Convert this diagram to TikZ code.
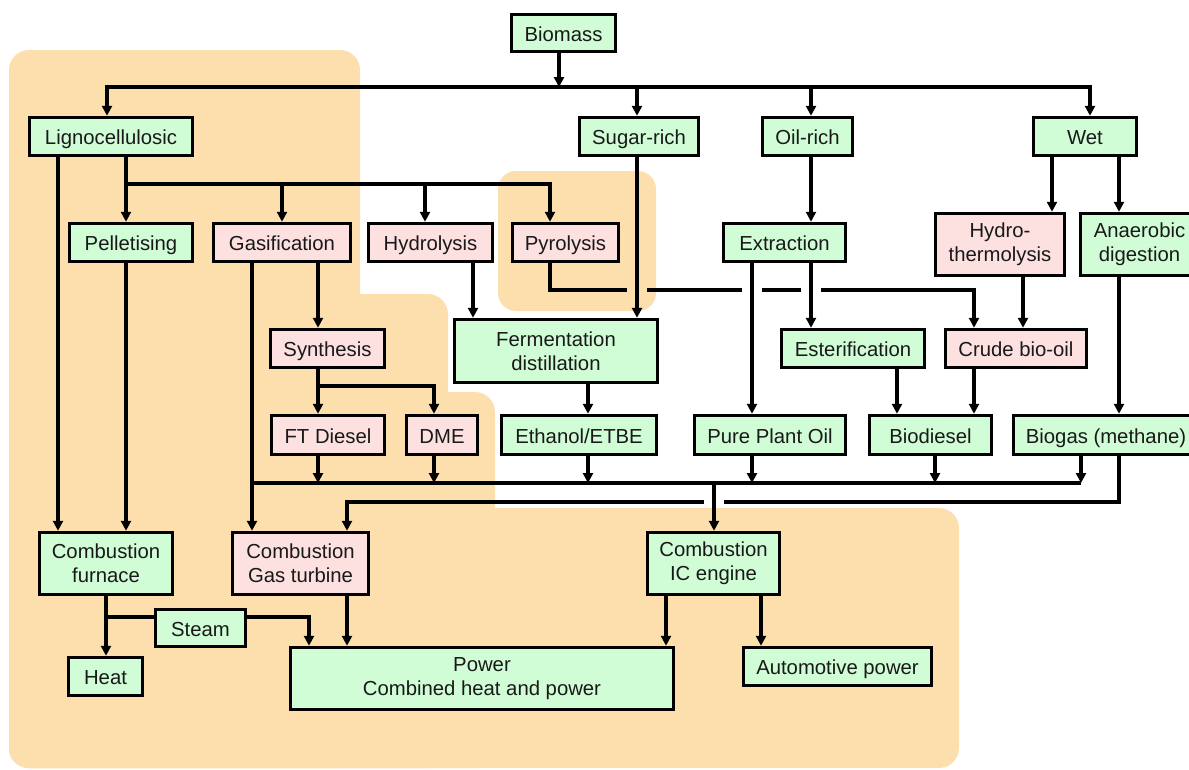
\documentclass[tikz,border=0pt]{standalone}
\usepackage{fontspec}
\setmainfont{Liberation Sans}
\usetikzlibrary{arrows.meta,calc}
\definecolor{boxg}{RGB}{208,252,214}
\definecolor{boxp}{RGB}{253,224,224}
\definecolor{bgo}{RGB}{253,223,173}
\definecolor{txt}{RGB}{25,25,25}
\tikzset{
  bx/.style={draw=black, line width=3.5pt, inner sep=0pt, align=center, text=txt},
  oneline/.style={text height=16pt, text depth=0pt},
  gbox/.style={bx, oneline, fill=boxg},
  pbox/.style={bx, oneline, fill=boxp},
  gboxtwo/.style={bx, fill=boxg},
  pboxtwo/.style={bx, fill=boxp},
  arr/.style={-{Triangle[length=10pt,width=10pt]}},
}
\begin{document}
\begin{tikzpicture}[x=1pt, y=-1pt, line width=3.2pt, font=\fontsize{20.3}{24}\selectfont]
\useasboundingbox (0,0) rectangle (1189,769);
% background regions
\fill[bgo, rounded corners=20pt] (9,50) rectangle (360,768);
\fill[bgo, rounded corners=20pt] (9,294) rectangle (448,768);
\fill[bgo, rounded corners=20pt] (9,392) rectangle (495,768);
\fill[bgo, rounded corners=20pt] (9,508) rectangle (959,768);
\fill[bgo, rounded corners=18pt] (498,171) rectangle (656,311);
% nodes
\node[gbox, minimum width=104pt, minimum height=37pt] (bio) at (563.5,33) {Biomass};
\node[gbox, minimum width=163pt, minimum height=38pt] (lig) at (111,136.5) {Lignocellulosic};
\node[gbox, minimum width=119pt, minimum height=38pt] (sug) at (639,136.5) {Sugar-rich};
\node[gbox, minimum width=90pt, minimum height=38pt] (oil) at (807.5,136.5) {Oil-rich};
\node[gbox, minimum width=103pt, minimum height=38pt] (wet) at (1085,136.5) {Wet};
\node[gbox, minimum width=123pt, minimum height=38pt] (pel) at (131,242.5) {Pelletising};
\node[pbox, minimum width=137pt, minimum height=38pt] (gas) at (282,242.5) {Gasification};
\node[pbox, minimum width=124pt, minimum height=38pt] (hyd) at (430.5,242.5) {Hydrolysis};
\node[pbox, minimum width=106pt, minimum height=38pt] (pyr) at (565.5,242.5) {Pyrolysis};
\node[gbox, minimum width=122pt, minimum height=38pt] (ext) at (784.5,242.5) {Extraction};
\node[pboxtwo, minimum width=129pt, minimum height=62pt] (hth) at (1000,244.5) {Hydro-\\thermolysis};
\node[gboxtwo, minimum width=118pt, minimum height=62pt] (ana) at (1139.5,244.5) {Anaerobic\\digestion};
\node[gboxtwo, minimum width=203pt, minimum height=63pt] (fer) at (556,351) {Fermentation\\distillation};
\node[pbox, minimum width=114pt, minimum height=38pt] (syn) at (327.5,348.5) {Synthesis};
\node[gbox, minimum width=143pt, minimum height=38pt] (est) at (853,348.5) {Esterification};
\node[pbox, minimum width=141pt, minimum height=38pt] (cru) at (1016,348.5) {Crude bio-oil};
\node[pbox, minimum width=113pt, minimum height=39pt] (ftd) at (328,435) {FT Diesel};
\node[pbox, minimum width=71pt, minimum height=39pt] (dme) at (442,435) {DME};
\node[gbox, minimum width=155pt, minimum height=39pt] (eth) at (579,435) {Ethanol/ETBE};
\node[gbox, minimum width=151pt, minimum height=39pt] (ppo) at (770,435) {Pure Plant Oil};
\node[gbox, minimum width=122pt, minimum height=39pt] (bdi) at (930.5,435) {Biodiesel};
\node[gbox, minimum width=185pt, minimum height=39pt] (bgs) at (1106,435) {Biogas (methane)};
\node[gboxtwo, minimum width=133pt, minimum height=62pt] (fur) at (106,563.5) {Combustion\\furnace};
\node[pboxtwo, minimum width=136pt, minimum height=62pt] (gtb) at (300.5,563.5) {Combustion\\Gas turbine};
\node[gboxtwo, minimum width=132pt, minimum height=62pt] (ice) at (713.5,563.5) {Combustion\\IC engine};
\node[gbox, minimum width=90pt, minimum height=37pt] (stm) at (200.5,628) {Steam};
\node[gbox, minimum width=74pt, minimum height=38pt] (hea) at (105.5,676.5) {Heat};
\node[gboxtwo, minimum width=383pt, minimum height=62pt] (pow) at (482,678.5) {Power\\Combined heat and power};
\node[gbox, minimum width=188pt, minimum height=38pt] (aut) at (837.5,666.5) {Automotive power};
% coordinates
\coordinate (t0) at (559,87);
\coordinate (t1) at (107,87);
\coordinate (t2) at (637,87);
\coordinate (t3) at (811,87);
\coordinate (t4) at (1090,87);
\coordinate (l1) at (58,184);
\coordinate (l2) at (126,184);
\coordinate (l3) at (282,184);
\coordinate (l4) at (425,184);
\coordinate (l5) at (550,184);
\coordinate (g1) at (252,300);
\coordinate (g2) at (318,300);
\coordinate (h1) at (473,300);
\coordinate (e1) at (752,300);
\coordinate (w1) at (1052,180);
\coordinate (w2) at (1119,180);
\coordinate (w3) at (1023,300);
\coordinate (sy1) at (318,386);
\coordinate (sy2) at (434,386);
\coordinate (f1) at (588,400);
\coordinate (b1) at (897,400);
\coordinate (p1) at (550,290);
\coordinate (p2) at (974,290);
\coordinate (c0) at (252,483);
\coordinate (c1) at (318,483);
\coordinate (c2) at (434,483);
\coordinate (c3) at (588,483);
\coordinate (c4) at (752,483);
\coordinate (c5) at (935,483);
\coordinate (c6) at (1081,483);
\coordinate (cI) at (714,483);
\coordinate (d0) at (1119,502);
\coordinate (d1) at (724,502);
\coordinate (d2) at (704,502);
\coordinate (d3) at (347,502);
\coordinate (hx) at (106,600);
\coordinate (sj) at (106,617);
\coordinate (sk) at (309,617);
\coordinate (i1) at (666,620);
\coordinate (i2) at (761,620);
% connectors
\draw[arr] (bio.south -| t0) -- (t0);
\draw[arr] (t0) -- (t1) -- (t1 |- lig.north);
\draw[arr] (t0) -- (t4) -- (t4 |- wet.north);
\draw[arr] (t2) -- (t2 |- sug.north);
\draw[arr] (t3) -- (t3 |- oil.north);
\draw[arr] (lig.south -| l1) -- (fur.north -| l1);
\draw[arr] (lig.south -| l2) -- (pel.north -| l2);
\draw[arr] (l2) -- (l5) -- (pyr.north -| l5);
\draw[arr] (l3) -- (gas.north -| l3);
\draw[arr] (l4) -- (hyd.north -| l4);
\draw[arr] (pel.south -| l2) -- (fur.north -| l2);
\draw[arr] (gas.south -| g1) -- (gtb.north -| g1);
\draw[arr] (gas.south -| g2) -- (syn.north -| g2);
\draw[arr] (hyd.south -| h1) -- (fer.north -| h1);
\draw[arr] (sug.south -| t2) -- (fer.north -| t2);
\draw[arr] (oil.south -| t3) -- (ext.north -| t3);
\draw[arr] (ext.south -| e1) -- (ppo.north -| e1);
\draw[arr] (ext.south -| t3) -- (est.north -| t3);
\draw[arr] (wet.south -| w1) -- (hth.north -| w1);
\draw[arr] (wet.south -| w2) -- (ana.north -| w2);
\draw[arr] (hth.south -| w3) -- (cru.north -| w3);
\draw[arr] (ana.south -| w2) -- (bgs.north -| w2);
% pyrolysis line with crossing gaps
\draw (pyr.south -| p1) -- (p1) -- ($(p1 -| t2)+(-10,0)$);
\draw ($(p1 -| t2)+(10,0)$) -- ($(p1 -| e1)+(-10,0)$);
\draw ($(p1 -| e1)+(10,0)$) -- ($(p1 -| t3)+(-10,0)$);
\draw[arr] ($(p1 -| t3)+(10,0)$) -- (p2) -- (cru.north -| p2);
% synthesis
\draw[arr] (syn.south -| sy1) -- (ftd.north -| sy1);
\draw[arr] (sy1) -- (sy2) -- (dme.north -| sy2);
\draw[arr] (fer.south -| f1) -- (eth.north -| f1);
\draw[arr] (est.south -| b1) -- (bdi.north -| b1);
\draw[arr] (cru.south -| p2) -- (bdi.north -| p2);
% fuel collector
\draw (c0) -- (c6);
\draw[arr] (ftd.south -| c1) -- (c1);
\draw[arr] (dme.south -| c2) -- (c2);
\draw[arr] (eth.south -| c3) -- (c3);
\draw[arr] (ppo.south -| c4) -- (c4);
\draw[arr] (bdi.south -| c5) -- (c5);
\draw[arr] (bgs.south -| c6) -- (c6);
\draw[arr] (cI) -- (ice.north -| cI);
\draw (bgs.south -| d0) -- (d0) -- (d1);
\draw[arr] (d2) -- (d3) -- (gtb.north -| d3);
% combustion outputs
\draw[arr] (fur.south -| hx) -- (hea.north -| hx);
\draw (sj) -- (sj -| stm.west);
\draw[arr] (sj -| stm.east) -- (sk) -- (pow.north -| sk);
\draw[arr] (gtb.south -| d3) -- (pow.north -| d3);
\draw[arr] (ice.south -| i1) -- (pow.north -| i1);
\draw[arr] (ice.south -| i2) -- (aut.north -| i2);
\end{tikzpicture}
\end{document}
